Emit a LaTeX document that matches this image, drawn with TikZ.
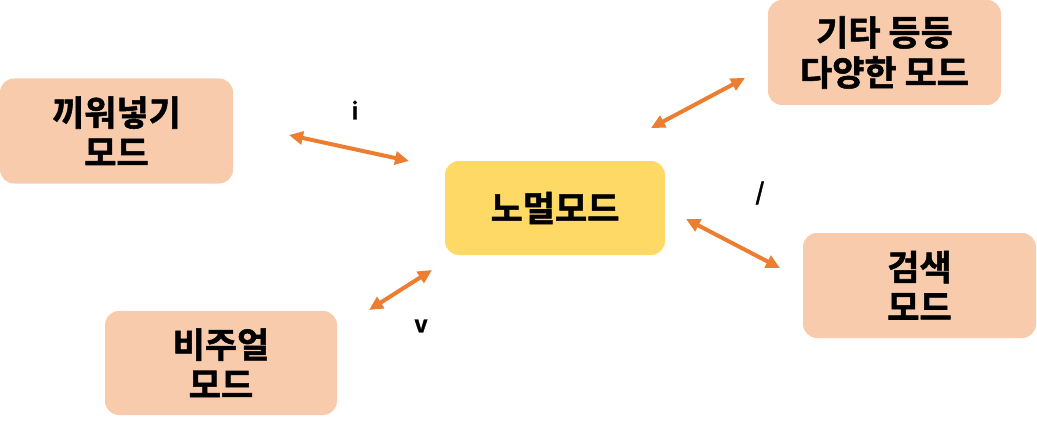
\documentclass[tikz,border=0pt]{standalone}
\usepackage{fontspec}
\newfontfamily\kr{Noto Sans CJK KR}[UprightFont=* Bold, FakeBold=1.5]
\usetikzlibrary{arrows.meta}
\definecolor{peach}{HTML}{F8CBAD}
\definecolor{gold}{HTML}{FFD966}
\definecolor{orng}{HTML}{ED7D31}
\begin{document}
\begin{tikzpicture}[x=1pt,y=-1pt,
  mode/.style={fill=peach, rounded corners=14pt, minimum width=233pt, minimum height=105pt, align=center, inner sep=0pt,
    font=\kr\fontsize{35}{40}\selectfont},
  conn/.style={orng, line width=4pt, {Triangle[length=14pt,width=13pt]}-{Triangle[length=14pt,width=13pt]}},
  lbl/.style={font=\kr\fontsize{23}{24}\selectfont, inner sep=0pt}]
\useasboundingbox (0,0) rectangle (1037,428);
\node[mode] (ins) at (116.5,131) {끼워넣기\\모드};
\node[mode] (etc) at (884.5,52.5) {기타 등등\\다양한 모드};
\node[mode, fill=gold, minimum width=220pt, minimum height=94pt] (norm) at (555,208) {노멀모드};
\node[mode] (srch) at (919.5,285.5) {검색\\모드};
\node[mode, minimum width=232pt, minimum height=104pt] (vis) at (221,363) {비주얼\\모드};
\coordinate (a1) at (289,135); \coordinate (b1) at (409,161);
\coordinate (a2) at (651,128); \coordinate (b2) at (745,78);
\coordinate (a3) at (686,219); \coordinate (b3) at (780,268);
\coordinate (a4) at (369,310); \coordinate (b4) at (432,270);
\draw[conn] (a1) -- (b1);
\draw[conn] (a2) -- (b2);
\draw[conn] (a3) -- (b3);
\draw[conn] (a4) -- (b4);
\node[lbl] (li) at (355,110) {i};
\node[lbl] (ls) at (760,193) {/};
\node[lbl] (lv) at (421,326) {v};
\end{tikzpicture}
\end{document}
